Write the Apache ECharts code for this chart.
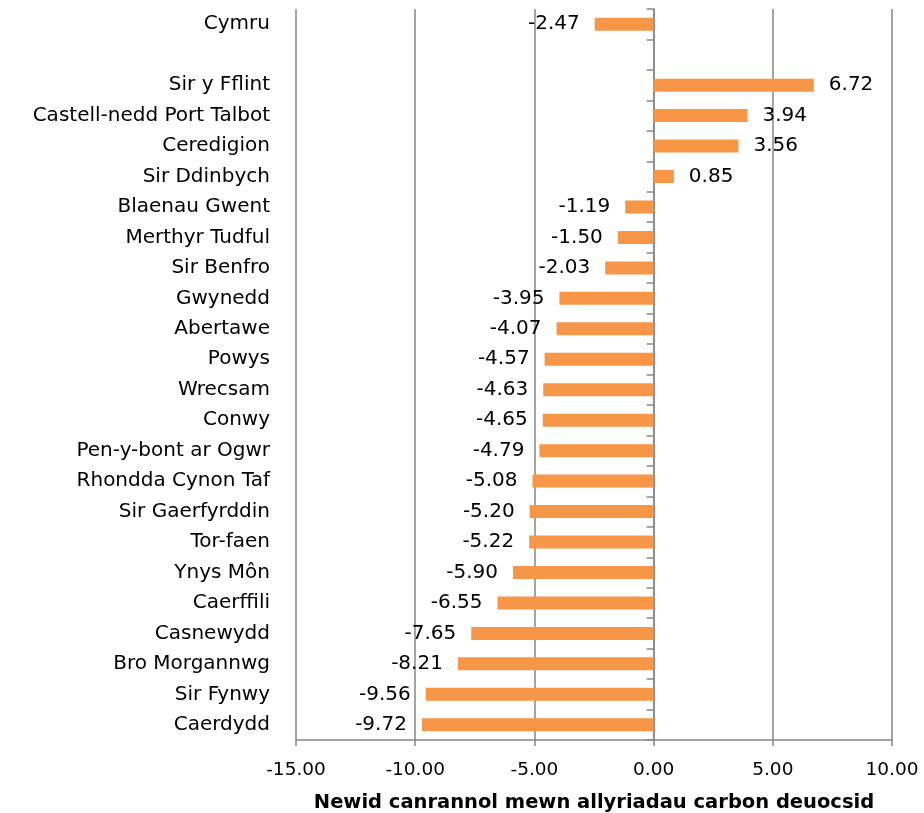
<!DOCTYPE html>
<html><head><meta charset="utf-8">
<script src="https://cdn.jsdelivr.net/npm/echarts@6/dist/echarts.min.js"></script>
<style>html,body{margin:0;padding:0;background:#fff}#c{width:924px;height:813px}</style>
</head><body><div id="c"></div>
<script>
const categories = ['Cymru','','Sir y Fflint','Castell-nedd Port Talbot','Ceredigion','Sir Ddinbych','Blaenau Gwent','Merthyr Tudful','Sir Benfro','Gwynedd','Abertawe','Powys','Wrecsam','Conwy','Pen-y-bont ar Ogwr','Rhondda Cynon Taf','Sir Gaerfyrddin','Tor-faen','Ynys Môn','Caerffili','Casnewydd','Bro Morgannwg','Sir Fynwy','Caerdydd'];
const values = [-2.47,null,6.72,3.94,3.56,0.85,-1.19,-1.50,-2.03,-3.95,-4.07,-4.57,-4.63,-4.65,-4.79,-5.08,-5.20,-5.22,-5.90,-6.55,-7.65,-8.21,-9.56,-9.72];
const xMin = -15, xMax = 10, xStep = 5;
const axisTitle = 'Newid canrannol mewn allyriadau carbon deuocsid';
const font = 'DejaVu Sans';
const W = 924, gridLeft = 296, gridRight = 32;
const zeroOffset = -(0 - xMin) / (xMax - xMin) * (W - gridLeft - gridRight);
const chart = echarts.init(document.getElementById('c'));
chart.setOption({
  animation:false,
  grid:{left:gridLeft,right:gridRight,top:9,bottom:73,containLabel:false,outerBoundsMode:'none'},
  xAxis:{type:'value',min:xMin,max:xMax,interval:xStep,
    name:axisTitle,nameLocation:'middle',nameGap:53,
    nameTextStyle:{fontFamily:font,fontSize:19.5,fontWeight:'bold',color:'#000'},
    axisLine:{show:true,onZero:false,lineStyle:{color:'#868686',width:1.5}},
    axisTick:{show:true,length:6,lineStyle:{color:'#868686',width:1.5}},
    axisLabel:{fontFamily:font,fontSize:18.5,color:'#000',margin:21,formatter:v=>v.toFixed(2)},
    splitLine:{show:true,lineStyle:{color:'#868686',width:1.5}}},
  yAxis:[{type:'category',data:categories,inverse:true,position:'left',
    axisLine:{show:false,onZero:false},axisTick:{show:false},
    axisLabel:{fontFamily:font,fontSize:20,color:'#000',margin:26}},
   {type:'category',data:categories,inverse:true,position:'left',offset:zeroOffset,
    axisLine:{show:true,onZero:false,lineStyle:{color:'#868686',width:1.5}},
    axisTick:{show:true,length:7,lineStyle:{color:'#868686',width:1.5}},
    axisLabel:{show:false}}],
  series:[{type:'bar',yAxisIndex:0,barWidth:13,
    itemStyle:{color:'#F79646'},
    data:values.map(v=>v===null?null:{value:v,label:{show:true,position:v<0?'left':'right',distance:15,
      fontFamily:font,fontSize:20,color:'#000',formatter:p=>p.value.toFixed(2)}})}]
});
</script></body></html>
